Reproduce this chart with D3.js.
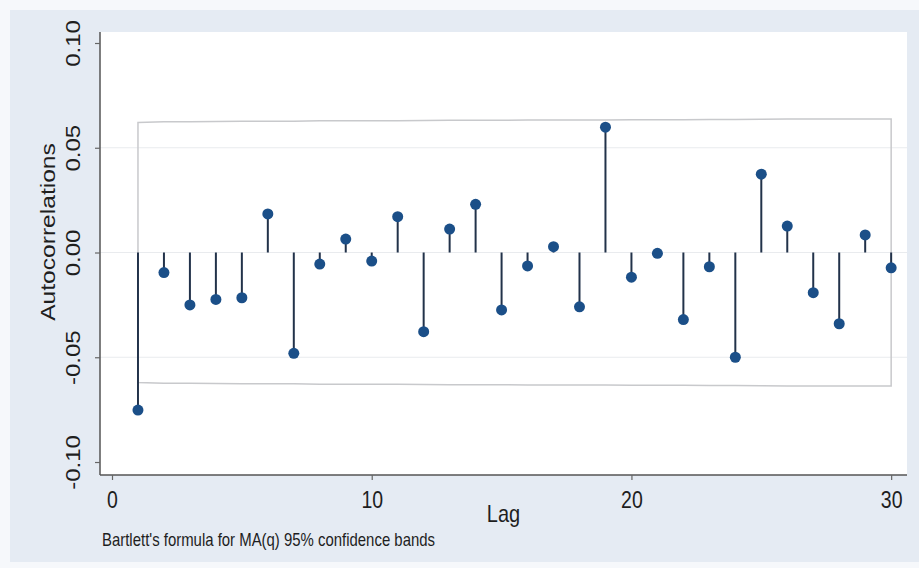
<!DOCTYPE html>
<html>
<head>
<meta charset="utf-8">
<script src="https://cdn.jsdelivr.net/npm/d3@7"></script>
<style>
  html, body { margin: 0; padding: 0; background: #f6f8fb; }
  svg { display: block; font-family: "Liberation Sans", Arial, sans-serif; }
</style>
</head>
<body>
<svg id="chart" width="919" height="568"></svg>
<script>
// Autocorrelation function, lags 1..30
const lags = d3.range(1, 31);
const acValues = [
  -0.0752, -0.0096, -0.0250, -0.0224, -0.0216,  0.0184, -0.0481, -0.0055,  0.0064, -0.0041,
   0.0171, -0.0378,  0.0112,  0.0230, -0.0274, -0.0064,  0.0028, -0.0259,  0.0598, -0.0118,
  -0.0004, -0.0320, -0.0068, -0.0500,  0.0374,  0.0126, -0.0192, -0.0340,  0.0084, -0.0073
];
// Half-width of the 95% confidence band at each lag (Bartlett, MA(q))
const bandHalfWidth = [
  0.0621, 0.0624, 0.0624, 0.0625, 0.0626, 0.0626, 0.0627, 0.0629, 0.0629, 0.0629,
  0.0629, 0.0630, 0.0631, 0.0631, 0.0631, 0.0632, 0.0632, 0.0632, 0.0632, 0.0634,
  0.0634, 0.0634, 0.0635, 0.0635, 0.0636, 0.0637, 0.0637, 0.0637, 0.0637, 0.0637
];
const xTicks = [0, 10, 20, 30];
const yTicks = [-0.10, -0.05, 0, 0.05, 0.10];
const yGridTicks = [-0.05, 0, 0.05];
const yTitle = "Autocorrelations";
const xTitle = "Lag";
const note = "Bartlett's formula for MA(q) 95% confidence bands";

const svg = d3.select("#chart");
const W = 919, H = 568;
const plot = { left: 100, right: 907, top: 32, bottom: 475 };
const stretch = 1.2;   // text is drawn slightly taller than wide

// graph region
svg.append("rect").attr("x", 10).attr("y", 10).attr("width", W - 10).attr("height", 552)
  .attr("fill", "#e5ebf3");
// plot region
svg.append("rect").attr("x", plot.left).attr("y", plot.top)
  .attr("width", plot.right - plot.left).attr("height", plot.bottom - plot.top)
  .attr("fill", "#ffffff");

const x = d3.scaleLinear().domain([-0.462, 30.61]).range([plot.left, plot.right]);
const y = d3.scaleLinear().domain([-0.1062, 0.10525]).range([plot.bottom, plot.top]);

// grid lines
svg.append("g").selectAll("line").data(yGridTicks).join("line")
  .attr("x1", plot.left).attr("x2", plot.right)
  .attr("y1", d => y(d)).attr("y2", d => y(d))
  .attr("stroke", "#e9ebee").attr("stroke-width", 1.2);

// confidence band outline
const area = d3.area()
  .x((d, i) => x(lags[i]))
  .y0((d, i) => y(-bandHalfWidth[i]))
  .y1((d, i) => y(bandHalfWidth[i]));
svg.append("path").datum(bandHalfWidth)
  .attr("d", d => area(d))
  .attr("fill", "none")
  .attr("stroke", "#c8c9cc").attr("stroke-width", 1.5);

// stems
svg.append("g").selectAll("line").data(acValues).join("line")
  .attr("x1", (d, i) => x(lags[i])).attr("x2", (d, i) => x(lags[i]))
  .attr("y1", y(0)).attr("y2", d => y(d))
  .attr("stroke", "#22324a").attr("stroke-width", 2);

// markers
svg.append("g").selectAll("circle").data(acValues).join("circle")
  .attr("cx", (d, i) => x(lags[i])).attr("cy", d => y(d))
  .attr("r", 5.5).attr("fill", "#1b4f88");

// y axis
const yAxis = svg.append("g").attr("transform", `translate(${plot.left},0)`)
  .call(d3.axisLeft(y).tickValues(yTicks).tickSize(5).tickSizeOuter(0)
    .tickFormat(d => d.toFixed(2)));
yAxis.select(".domain").attr("stroke", "#555").attr("stroke-width", 1.5)
  .attr("d", `M0,${plot.top}V${plot.bottom}`);
yAxis.selectAll(".tick line").attr("stroke", "#666").attr("stroke-width", 1.2);
yAxis.selectAll(".tick text")
  .attr("x", null).attr("dy", null)
  .attr("font-size", 20).attr("fill", "#1e1e1e")
  .attr("text-anchor", "middle")
  .attr("transform", `translate(-20,0) scale(1,${stretch}) rotate(-90)`);

// x axis
const xAxis = svg.append("g").attr("transform", `translate(0,${plot.bottom})`)
  .call(d3.axisBottom(x).tickValues(xTicks).tickSize(5).tickSizeOuter(0)
    .tickFormat(d3.format("d")));
xAxis.select(".domain").attr("stroke", "#555").attr("stroke-width", 1.5)
  .attr("d", `M${plot.left},0H${plot.right}`);
xAxis.selectAll(".tick line").attr("stroke", "#666").attr("stroke-width", 1.2);
xAxis.selectAll(".tick text")
  .attr("y", null).attr("dy", null)
  .attr("font-size", 19.5).attr("fill", "#1e1e1e")
  .attr("text-anchor", "middle")
  .attr("transform", `translate(0,33) scale(1,${stretch})`);

// axis titles
svg.append("text")
  .attr("transform", `translate(55,232) scale(1,${stretch}) rotate(-90)`)
  .attr("text-anchor", "middle").attr("font-size", 20.5).attr("fill", "#1e1e1e")
  .text(yTitle);
svg.append("text")
  .attr("transform", `translate(${(plot.left + plot.right) / 2},521.5) scale(1,${stretch})`)
  .attr("text-anchor", "middle").attr("font-size", 20).attr("fill", "#1e1e1e")
  .text(xTitle);

// note
svg.append("text")
  .attr("transform", `translate(102,546) scale(1,${stretch})`)
  .attr("font-size", 15.5).attr("fill", "#1e1e1e")
  .attr("textLength", 333).attr("lengthAdjust", "spacingAndGlyphs")
  .text(note);
</script>
</body>
</html>
